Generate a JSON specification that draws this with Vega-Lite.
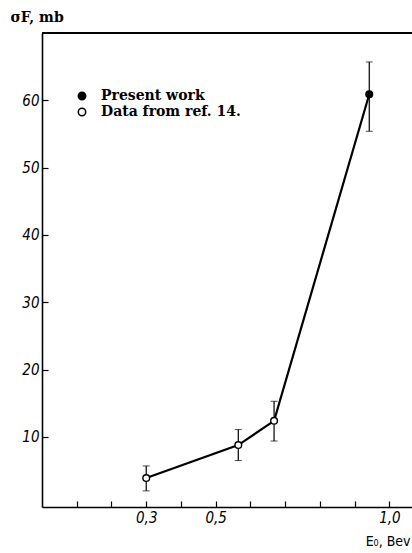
{
  "$schema": "https://vega.github.io/schema/vega-lite/v6.json",
  "autosize": "none",
  "width": 370,
  "height": 474,
  "padding": {"left": 42, "top": 33, "right": 0, "bottom": 46},
  "background": "white",
  "config": {
    "view": {"stroke": null},
    "axis": {
      "domainColor": "black",
      "domainWidth": 1.6,
      "tickColor": "black",
      "tickWidth": 1.2,
      "tickSize": -6,
      "grid": false,
      "labelColor": "black",
      "labelFont": "'DejaVu Sans Condensed', 'Liberation Sans Narrow', 'Liberation Sans'",
      "labelFontStyle": "italic",
      "labelFontSize": 15,
      "titleColor": "black"
    }
  },
  "data": {
    "values": [
      {"E": 0.3, "sigma": 3.9, "lo": 2.0, "hi": 5.7, "source": "Data from ref. 14."},
      {"E": 0.565, "sigma": 8.8, "lo": 6.5, "hi": 11.1, "source": "Data from ref. 14."},
      {"E": 0.668, "sigma": 12.4, "lo": 9.4, "hi": 15.3, "source": "Data from ref. 14."},
      {"E": 0.942, "sigma": 60.9, "lo": 55.4, "hi": 65.7, "source": "Present work"}
    ]
  },
  "layer": [
    {
      "mark": {"type": "rule", "color": "black", "strokeWidth": 1.6},
      "encoding": {"y": {"datum": 70, "type": "quantitative", "title": "σF, mb", "scale": {"domain": [-0.4, 70], "nice": false}}}
    },
    {
      "mark": {"type": "errorbar", "ticks": {"size": 7, "color": "black", "strokeWidth": 1.2}, "color": "black", "rule": {"strokeWidth": 1.2}},
      "encoding": {
        "x": {"field": "E", "type": "quantitative", "title": "E₀, Bev"},
        "y": {"field": "lo", "type": "quantitative", "title": "σF, mb"},
        "y2": {"field": "hi"}
      }
    },
    {
      "mark": {"type": "line", "color": "black", "strokeWidth": 2.2},
      "encoding": {
        "x": {"field": "E", "type": "quantitative", "title": "E₀, Bev"},
        "y": {"field": "sigma", "type": "quantitative", "title": "σF, mb"}
      }
    },
    {
      "mark": {"type": "point", "shape": "circle", "size": 45, "stroke": "black", "strokeWidth": 1.4, "opacity": 1},
      "encoding": {
        "x": {
          "field": "E",
          "type": "quantitative",
          "title": "E₀, Bev",
          "scale": {"domain": [0, 1.065], "nice": false, "zero": false},
          "axis": {
            "values": [0.1, 0.2, 0.3, 0.4, 0.5, 0.6, 0.7, 0.8, 0.9, 1.0],
            "labelExpr": "datum.value == 0.3 ? '0,3' : datum.value == 0.5 ? '0,5' : datum.value == 1 ? '1,0' : ''",
            "labelPadding": 9,
            "titleFont": "'DejaVu Sans Condensed', 'Liberation Sans'",
            "titleFontWeight": "normal",
            "titleFontSize": 14,
            "titleAnchor": "end",
            "titleAlign": "right",
            "titleBaseline": "alphabetic",
            "titleX": 368,
            "titleY": 38
          }
        },
        "y": {
          "field": "sigma",
          "type": "quantitative",
          "title": "σF, mb",
          "scale": {"domain": [-0.4, 70], "nice": false},
          "axis": {
            "values": [10, 20, 30, 40, 50, 60],
            "labelPadding": 9,
            "titleFont": "'DejaVu Serif', 'Liberation Serif'",
            "titleFontWeight": "bold",
            "titleFontSize": 14,
            "titleAngle": 0,
            "titleAlign": "left",
            "titleBaseline": "alphabetic",
            "titleX": -32,
            "titleY": -12
          }
        },
        "fill": {
          "field": "source",
          "type": "nominal",
          "scale": {"domain": ["Present work", "Data from ref. 14."], "range": ["black", "white"]},
          "legend": {
            "title": null,
            "orient": "none",
            "legendX": 33,
            "legendY": 56,
            "symbolType": "circle",
            "symbolSize": 55,
            "symbolStrokeColor": "black",
            "symbolStrokeWidth": 1.5,
            "symbolOpacity": 1,
            "labelFont": "'DejaVu Serif', 'Liberation Serif'",
            "labelFontWeight": "bold",
            "labelFontSize": 14,
            "labelColor": "black",
            "labelOffset": 12,
            "rowPadding": 2,
            "padding": 0
          }
        }
      }
    }
  ]
}
